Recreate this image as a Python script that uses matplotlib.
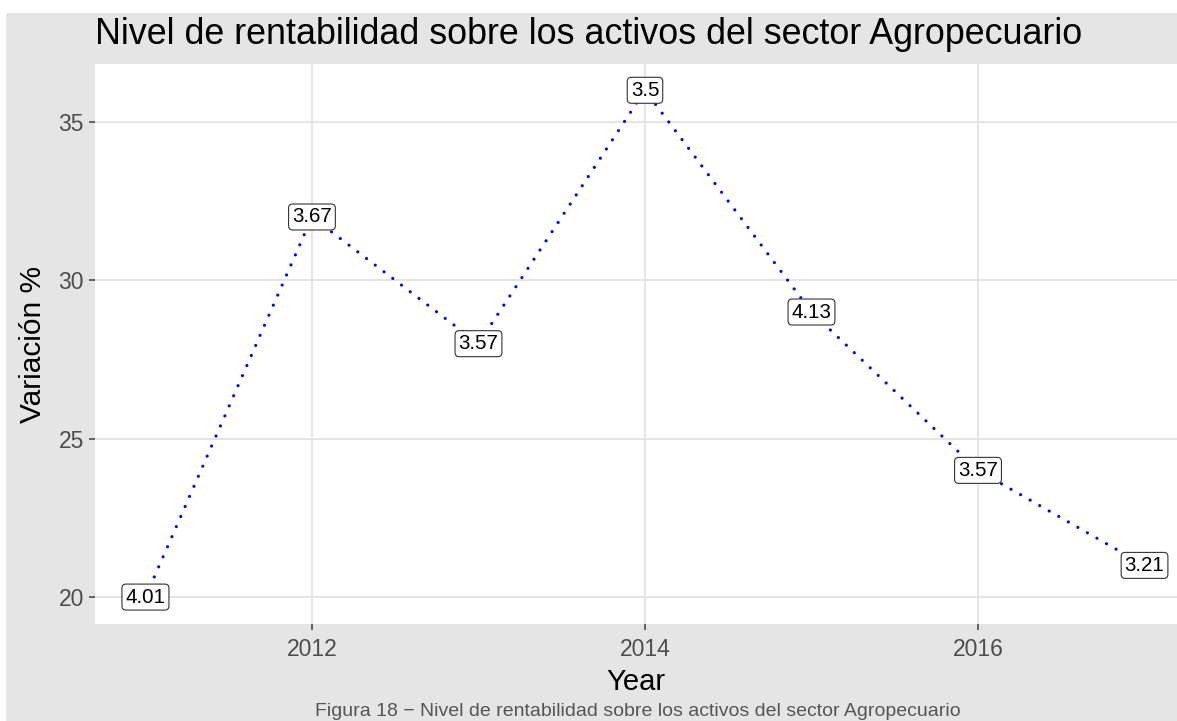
import matplotlib.pyplot as plt
from matplotlib.patches import Rectangle

plt.rcParams['font.family'] = ['Liberation Sans', 'DejaVu Sans']

# --- Datos ---
anios = [2011, 2012, 2013, 2014, 2015, 2016, 2017]
variacion = [20.0, 32.0, 28.0, 36.0, 29.0, 24.0, 21.0]
etiquetas = ["4.01", "3.67", "3.57", "3.5", "4.13", "3.57", "3.21"]
ticks_x = [2012, 2014, 2016]
ticks_y = [20, 25, 30, 35]

titulo = "Nivel de rentabilidad sobre los activos del sector Agropecuario"
pie = "Figura 18 \u2212 Nivel de rentabilidad sobre los activos del sector Agropecuario"

W, H = 1177, 721
fig = plt.figure(figsize=(W / 100, H / 100), dpi=100, facecolor='white')

# fondo gris estilo ggplot (deja una franja blanca arriba y a la izquierda)
fig.patches.append(Rectangle((6 / W, 0), 1 - 6 / W, (H - 13) / H,
                             transform=fig.transFigure, facecolor='#e5e5e5',
                             edgecolor='none', zorder=-10))

ax = fig.add_axes([95 / W, (H - 624) / H, (W - 95) / W, (624 - 64) / H])
ax.set_facecolor('white')

# línea punteada (puntos redondos separados ~11 px)
ax.plot(anios, variacion, color='blue', linestyle=(0, (0.01, 3.43)), linewidth=2.3,
        dash_capstyle='round', zorder=2)

for x, y, t in zip(anios, variacion, etiquetas):
    ax.text(x, y, t, ha='center', va='center', fontsize=14.8, color='black', zorder=3,
            bbox=dict(boxstyle='round,pad=0.17,rounding_size=0.2', facecolor='white',
                      edgecolor='#333333', linewidth=0.8))

ax.set_xlim(2010.697, 2017.195)
ax.set_ylim(19.15, 36.83)
ax.set_xticks(ticks_x)
ax.set_yticks(ticks_y)
ax.grid(True, color='#e3e3e3', linewidth=1.3)
ax.set_axisbelow(True)
for s in ax.spines.values():
    s.set_visible(False)
ax.tick_params(axis='both', colors='#4d4d4d', labelcolor='#4d4d4d', labelsize=16.5,
               length=4, width=1.2)
ax.tick_params(axis='x', pad=6)
ax.tick_params(axis='y', pad=4)

ax.set_xlabel("Year", fontsize=21, color='black', labelpad=5)
ax.set_ylabel("Variación %", fontsize=21.5, color='black', labelpad=8)

fig.text(95 / W, (H - 34) / H, titulo, fontsize=25.8, color='black', ha='left', va='center')
fig.text(638 / W, (H - 712) / H, pie, fontsize=14, color='#555555', ha='center', va='center')

fig.savefig('out.png', dpi=100, facecolor=fig.get_facecolor())
